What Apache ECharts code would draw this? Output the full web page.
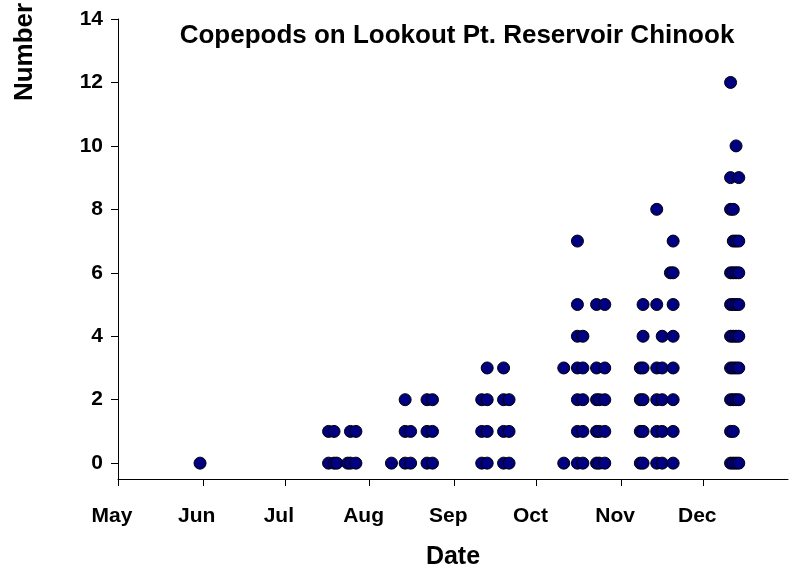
<!DOCTYPE html>
<html>
<head>
<meta charset="utf-8">
<script src="https://cdn.jsdelivr.net/npm/echarts@6/dist/echarts.min.js"></script>
<style>
  html, body { margin: 0; padding: 0; background: #fff; }
  #chart { width: 792px; height: 575px; }
</style>
</head>
<body>
<div id="chart"></div>
<script>
// Sampling dates (2003) and the copepod counts of each fish examined on that date
const sampleDates = [
  '2003-05-31',
  '2003-07-17', '2003-07-19', '2003-07-20', '2003-07-24', '2003-07-25', '2003-07-27',
  '2003-08-09', '2003-08-14', '2003-08-16', '2003-08-22', '2003-08-24',
  '2003-09-11', '2003-09-13', '2003-09-19', '2003-09-21',
  '2003-10-11', '2003-10-16', '2003-10-18', '2003-10-23', '2003-10-24', '2003-10-26',
  '2003-11-08', '2003-11-09', '2003-11-14', '2003-11-16', '2003-11-19', '2003-11-20',
  '2003-12-11', '2003-12-12', '2003-12-13', '2003-12-14'
];
const countsPerDate = [
  [0],
  [0, 1], [0, 1], [0], [0], [0, 1], [0, 1],
  [0], [0, 1, 2], [0, 1], [0, 1, 2], [0, 1, 2],
  [0, 1, 2], [0, 1, 2, 3], [0, 1, 2, 3], [0, 1, 2],
  [0, 3], [0, 1, 2, 3, 4, 5, 7], [0, 1, 2, 3, 4], [0, 1, 2, 3, 5], [0, 1, 2], [0, 1, 2, 3, 5],
  [0, 1, 2, 3], [0, 1, 2, 3, 4, 5], [0, 1, 2, 3, 5, 8], [0, 1, 2, 3, 4], [6], [0, 1, 2, 3, 4, 5, 6, 7],
  [0, 1, 2, 3, 4, 5, 6, 8, 9, 12], [0, 1, 2, 3, 4, 5, 6, 7, 8], [0, 2, 3, 4, 5, 6, 7, 10], [0, 2, 3, 4, 5, 6, 7, 9]
];
// Month tick marks along the date axis
const monthTicks = ['2003-05-01', '2003-06-01', '2003-07-01', '2003-08-01', '2003-09-01', '2003-10-01', '2003-11-01', '2003-12-01'];
const monthLabels = ['May', 'Jun', 'Jul', 'Aug', 'Sep', 'Oct', 'Nov', 'Dec'];
const yTicks = [0, 2, 4, 6, 8, 10, 12, 14];

// Day number counted from 1 Jan 2003
const DAY = 86400000;
const yearStart = Date.parse('2003-01-01T00:00:00Z');
const toDay = s => Math.round((Date.parse(s + 'T00:00:00Z') - yearStart) / DAY);

const points = [];
sampleDates.forEach((d, i) => {
  countsPerDate[i].forEach(c => points.push([toDay(d), c]));
});
const tickDays = monthTicks.map(toDay);

const FONT = '"Liberation Sans", Arial, Helvetica, sans-serif';

const chart = echarts.init(document.getElementById('chart'));
chart.setOption({
  animation: false,
  backgroundColor: '#ffffff',
  title: {
    text: 'Copepods on Lookout Pt. Reservoir Chinook',
    left: 452,
    top: 18,
    textAlign: 'center',
    textStyle: { fontFamily: FONT, fontSize: 26, fontWeight: 'bold', color: '#000' }
  },
  grid: { left: 118, right: 4, top: 19, bottom: 91, containLabel: false },
  xAxis: {
    type: 'value',
    min: toDay('2003-05-01'),
    max: toDay('2004-01-01'),
    name: 'Date',
    nameLocation: 'middle',
    nameGap: 66,
    nameTextStyle: { fontFamily: FONT, fontSize: 25, fontWeight: 'bold', color: '#000' },
    axisLine: { show: true, onZero: false, lineStyle: { color: '#000', width: 1 } },
    axisTick: { show: true, inside: false, length: 7, customValues: tickDays, lineStyle: { color: '#000' } },
    axisLabel: {
      customValues: tickDays,
      margin: 27,
      padding: [0, 12, 0, 0],
      fontFamily: FONT, fontSize: 21, fontWeight: 'bold', color: '#000',
      formatter: v => { const k = tickDays.indexOf(v); return k >= 0 ? monthLabels[k] : ''; }
    },
    splitLine: { show: false }
  },
  yAxis: {
    type: 'value',
    min: -0.5,
    max: 14,
    axisLine: { show: true, onZero: false, lineStyle: { color: '#000', width: 1 } },
    axisTick: { show: true, inside: false, length: 7, customValues: yTicks, lineStyle: { color: '#000' } },
    axisLabel: {
      customValues: yTicks,
      margin: 15,
      fontFamily: FONT, fontSize: 21, fontWeight: 'bold', color: '#000'
    },
    splitLine: { show: false }
  },
  graphic: [{
    type: 'text',
    x: 25,
    y: 52,
    rotation: Math.PI / 2,
    style: {
      text: 'Number',
      fontFamily: FONT, fontSize: 26, fontWeight: 'bold', fill: '#000',
      align: 'center', verticalAlign: 'middle'
    }
  }],
  series: [{
    type: 'scatter',
    data: points,
    symbol: 'circle',
    symbolSize: 12,
    itemStyle: { color: '#000080', borderColor: '#000', borderWidth: 1, opacity: 1 },
    emphasis: { disabled: true }
  }]
});
</script>
</body>
</html>
